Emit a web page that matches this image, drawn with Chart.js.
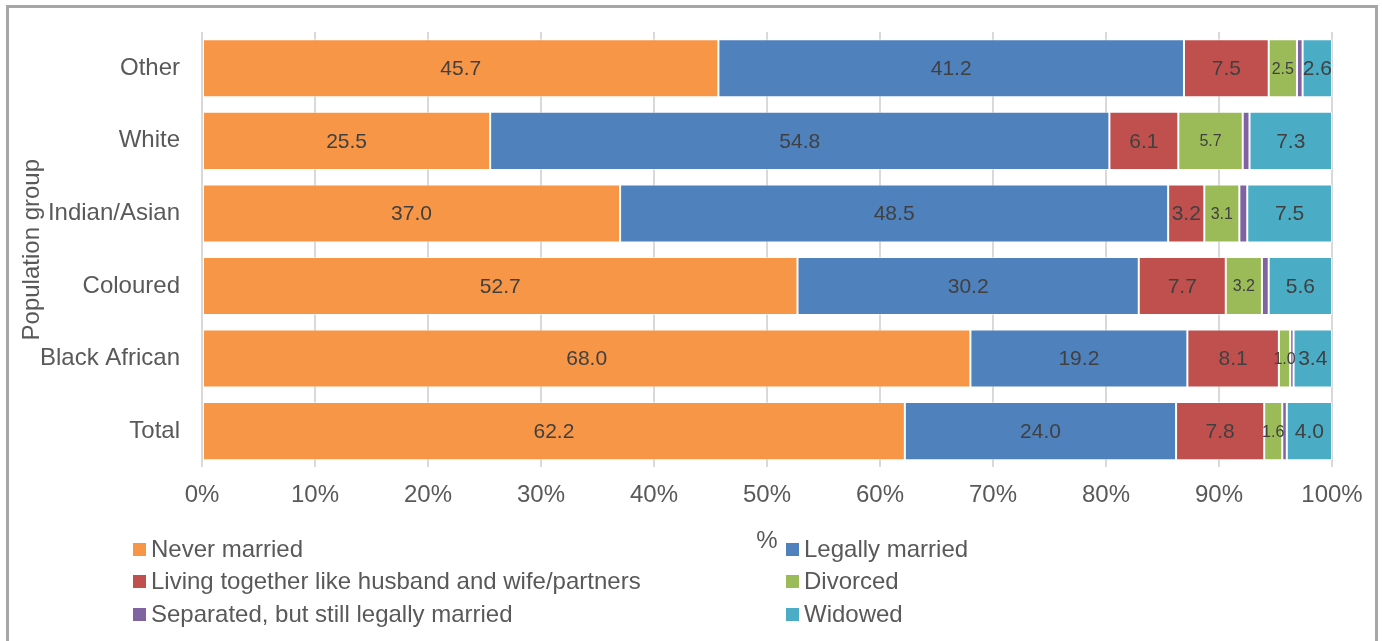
<!DOCTYPE html>
<html>
<head>
<meta charset="utf-8">
<title>Marital status by population group</title>
<script src="https://cdn.jsdelivr.net/npm/chart.js@4.4.1/dist/chart.umd.min.js"></script>
<style>
  body { margin: 0; background: #fff; font-family: "Liberation Sans", Arial, sans-serif; }
  #wrap { position: relative; width: 1382px; height: 641px; overflow: hidden; }
  #frame { position: absolute; left: 6px; top: 5px; width: 1366px; height: 700px; border: 3px solid #a6a6a6; }
  #chart { position: absolute; left: 0; top: 0; }
  .legend-item { position: absolute; height: 28px; line-height: 28px; font-size: 24px; color: #595959; white-space: nowrap; }
  .legend-item span.box { display: inline-block; width: 13px; height: 13px; margin-right: 5px; vertical-align: 1px; }
</style>
</head>
<body>
<div id="wrap">
  <div id="frame"></div>
  <canvas id="chart" width="1382" height="641"></canvas>
  <div id="legend"></div>
</div>
<script>
const groups = ['Other', 'White', 'Indian/Asian', 'Coloured', 'Black African', 'Total'];
const neverMarried = [45.7, 25.5, 37.0, 52.7, 68.0, 62.2];
const legallyMarried = [41.2, 54.8, 48.5, 30.2, 19.2, 24.0];
const livingTogether = [7.5, 6.1, 3.2, 7.7, 8.1, 7.8];
const divorced = [2.5, 5.7, 3.1, 3.2, 1.0, 1.6];
const separated = [0.5, 0.6, 0.7, 0.6, 0.3, 0.4];
const widowed = [2.6, 7.3, 7.5, 5.6, 3.4, 4.0];
const xTicks = ['0%', '10%', '20%', '30%', '40%', '50%', '60%', '70%', '80%', '90%', '100%'];

const series = [
  { label: 'Never married', data: neverMarried, color: '#F79646', labelSize: 21 },
  { label: 'Legally married', data: legallyMarried, color: '#4F81BD', labelSize: 21 },
  { label: 'Living together like husband and wife/partners', data: livingTogether, color: '#C0504D', labelSize: 21 },
  { label: 'Divorced', data: divorced, color: '#9BBB59', labelSize: 16 },
  { label: 'Separated, but still legally married', data: separated, color: '#8064A2', labelSize: 0 },
  { label: 'Widowed', data: widowed, color: '#4BACC6', labelSize: 21 }
];

// values written in the middle of each segment
const segmentLabels = {
  id: 'segmentLabels',
  afterDatasetsDraw(chart) {
    const ctx = chart.ctx;
    ctx.save();
    ctx.fillStyle = '#404040';
    ctx.textAlign = 'center';
    ctx.textBaseline = 'middle';
    chart.data.datasets.forEach((ds, i) => {
      if (!ds.labelSize) return;
      ctx.font = ds.labelSize + 'px "Liberation Sans", Arial, sans-serif';
      chart.getDatasetMeta(i).data.forEach((bar, j) => {
        const p = bar.getProps(['x', 'y', 'base'], true);
        ctx.fillText(ds.data[j].toFixed(1), (p.x + p.base) / 2, p.y + 1);
      });
    });
    ctx.restore();
  }
};

const tickFont = { family: '"Liberation Sans", Arial, sans-serif', size: 24 };

new Chart(document.getElementById('chart'), {
  type: 'bar',
  data: {
    labels: groups,
    datasets: series.map(s => ({
      label: s.label,
      data: s.data,
      backgroundColor: s.color,
      borderColor: 'rgba(255,255,255,0.55)',
      borderWidth: 1,
      borderSkipped: false,
      labelSize: s.labelSize,
      categoryPercentage: 1,
      barPercentage: 0.8
    }))
  },
  options: {
    indexAxis: 'y',
    responsive: false,
    animation: false,
    layout: { padding: { left: 10, top: 32, right: 50, bottom: 85 } },
    plugins: {
      legend: { display: false },
      tooltip: { enabled: false }
    },
    scales: {
      x: {
        stacked: true,
        min: 0,
        max: 100,
        border: { display: false },
        grid: { color: '#d9d9d9', lineWidth: 2, drawTicks: false },
        ticks: {
          stepSize: 10,
          padding: 14,
          color: '#595959',
          font: tickFont,
          callback: (v, i) => xTicks[i]
        },
        title: { display: true, text: '%', color: '#595959', font: tickFont, padding: { top: 3, bottom: 0 } }
      },
      y: {
        stacked: true,
        border: { display: false },
        grid: { display: false, drawTicks: false },
        ticks: { padding: 22, color: '#595959', font: tickFont },
        title: { display: true, text: 'Population group', color: '#595959', font: tickFont, padding: { top: 8, bottom: 0 } },
        afterFit(scale) {
          scale.width = 192;
          // the category labels sit inside the bars' band, no extra room needed
          scale.paddingTop = 0;
          scale.paddingBottom = 0;
        }
      }
    }
  },
  plugins: [segmentLabels]
});

// two-column legend underneath the axis
const legend = document.getElementById('legend');
const colX = [133, 786];
const rowY = [535, 567, 600];
series.forEach((s, i) => {
  const item = document.createElement('div');
  item.className = 'legend-item';
  item.style.left = colX[i % 2] + 'px';
  item.style.top = rowY[Math.floor(i / 2)] + 'px';
  item.innerHTML = '<span class="box" style="background:' + s.color + '"></span>' + s.label;
  legend.appendChild(item);
});
</script>
</body>
</html>
